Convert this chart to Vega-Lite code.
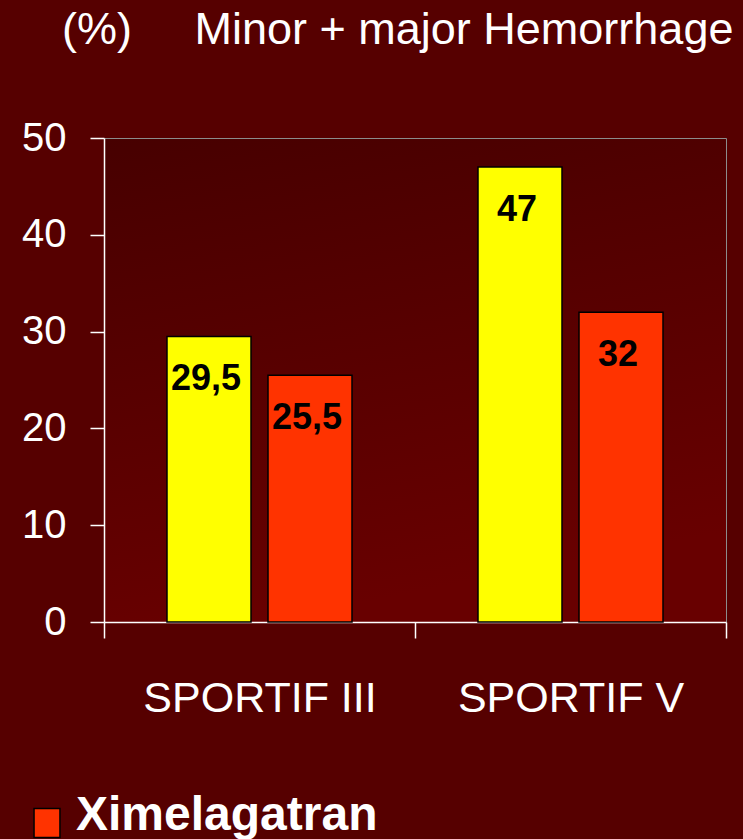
{
  "$schema": "https://vega.github.io/schema/vega-lite/v6.json",
  "width": 622,
  "height": 484,
  "autosize": {"type": "none"},
  "padding": {"left": 104, "top": 138, "right": 17, "bottom": 217},
  "background": "#560000",
  "title": {
    "text": "(%)\u00a0\u00a0\u00a0\u00a0\u00a0Minor + major Hemorrhage",
    "anchor": "start",
    "frame": "group",
    "dx": -42,
    "offset": 65,
    "font": "Liberation Sans",
    "fontSize": 45,
    "fontWeight": "normal",
    "color": "#ffffff"
  },
  "data": {
    "values": [
      {"trial": "SPORTIF III", "drug": "Warfarin", "value": 29.5, "label": "29,5"},
      {"trial": "SPORTIF III", "drug": "Ximelagatran", "value": 25.5, "label": "25,5"},
      {"trial": "SPORTIF V", "drug": "Warfarin", "value": 47, "label": "47"},
      {"trial": "SPORTIF V", "drug": "Ximelagatran", "value": 32, "label": "32"}
    ]
  },
  "encoding": {
    "x": {
      "field": "trial",
      "type": "nominal",
      "scale": {"paddingInner": 0, "paddingOuter": 0},
      "axis": {
        "title": null,
        "labelAngle": 0,
        "tickBand": "extent",
        "tickSize": 16,
        "labelFontSize": 43,
        "labelPadding": 39,
        "labelDx": -5,
        "labelLimit": 400,
        "domainColor": "#ffffff",
        "tickColor": "#ffffff",
        "labelColor": "#ffffff",
        "labelFont": "Liberation Sans"
      }
    },
    "xOffset": {
      "field": "drug",
      "type": "nominal",
      "sort": ["Warfarin", "Ximelagatran"],
      "scale": {"paddingInner": 0.1683, "paddingOuter": 0.6237}
    },
    "y": {
      "field": "value",
      "type": "quantitative",
      "scale": {"domain": [0, 50], "nice": false},
      "axis": {
        "title": null,
        "values": [0, 10, 20, 30, 40, 50],
        "grid": false,
        "tickSize": 14,
        "labelFontSize": 40,
        "labelPadding": 24,
        "domainColor": "#ffffff",
        "tickColor": "#ffffff",
        "labelColor": "#ffffff",
        "labelFont": "Liberation Sans"
      }
    }
  },
  "layer": [
    {
      "mark": {"type": "bar", "stroke": "#000000", "strokeWidth": 1.5},
      "encoding": {
        "color": {
          "field": "drug",
          "type": "nominal",
          "scale": {"domain": ["Warfarin", "Ximelagatran"], "range": ["#ffff00", "#ff3300"]},
          "legend": {
            "values": ["Ximelagatran"],
            "orient": "none",
            "legendX": -81,
            "legendY": 654,
            "title": null,
            "padding": 0,
            "symbolType": "M-0.96,-0.55H0.96V1.6H-0.96Z",
            "symbolSize": 729,
            "symbolStrokeColor": "#000000",
            "symbolStrokeWidth": 1.5,
            "symbolOpacity": 1,
            "labelFontSize": 48,
            "labelFontWeight": "bold",
            "labelFont": "Liberation Sans",
            "labelColor": "#ffffff",
            "labelOffset": 5,
            "labelLimit": 500
          }
        }
      }
    },
    {
      "mark": {
        "type": "text",
        "baseline": "middle",
        "align": "center",
        "dy": 43,
        "dx": -3,
        "font": "Liberation Sans",
        "fontSize": 36,
        "fontWeight": "bold",
        "color": "#000000"
      },
      "encoding": {
        "text": {"field": "label"}
      }
    }
  ],
  "config": {
    "view": {
      "stroke": "#8c8c8c",
      "strokeWidth": 1,
      "fill": {
        "gradient": "linear",
        "x1": 0, "y1": 0, "x2": 0.25, "y2": 1,
        "stops": [
          {"offset": 0, "color": "#470000"},
          {"offset": 1, "color": "#680000"}
        ]
      }
    },
    "axis": {"domainWidth": 1.5, "tickWidth": 1.5}
  }
}
